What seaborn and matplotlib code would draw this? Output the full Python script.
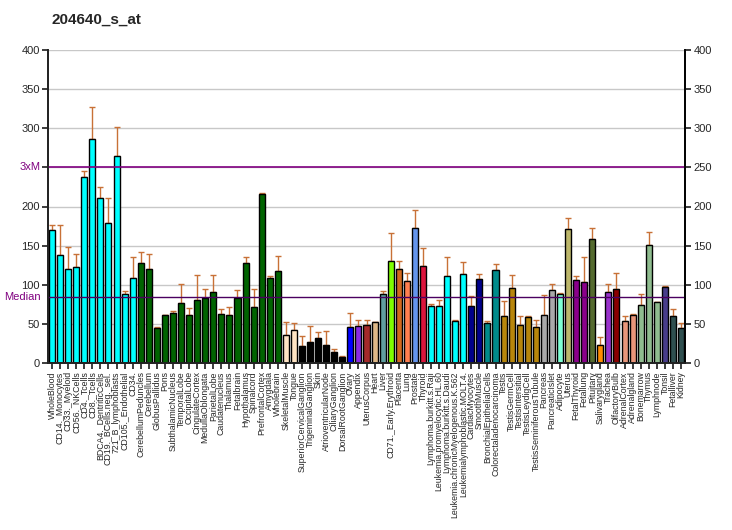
import matplotlib
matplotlib.use("Agg")
import matplotlib.pyplot as plt
import matplotlib.transforms as mtransforms
import numpy as np
import pandas as pd
import seaborn as sns

TITLE = "204640_s_at"

tissues = [
    "WholeBlood", "CD14._Monocytes", "CD33._Myeloid", "CD56._NKCells", "CD4._Tcells",
    "CD8._Tcells", "BDCA4._DentriticCells", "CD19._BCells.neg._sel.", "721_B_lymphoblasts",
    "CD105._Endothelial", "CD34.", "CerebellumPeduncles", "Cerebellum", "GlobusPallidus",
    "Pons", "SubthalamicNucleus", "TemporalLobe", "OccipitalLobe", "CingulateCortex",
    "MedullaOblongata", "ParietalLobe", "Caudatenucleus", "Thalamus", "Fetalbrain",
    "Hypothalamus", "Spinalcord", "PrefrontalCortex", "Amygdala", "Wholebrain",
    "SkeletalMuscle", "Tongue", "SuperiorCervicalGanglion", "TrigeminalGanglion", "Skin",
    "AtrioventricularNode", "CiliaryGanglion", "DorsalRootGanglion", "Ovary", "Appendix",
    "UterusCorpus", "Heart", "Liver", "CD71._Early.Erythroid", "Placenta", "Lung",
    "Prostate", "Thyroid", "Lymphoma.burkitt.s.Raji", "Leukemia.promyelocytic.HL.60",
    "Lymphoma.burkitt.s.Daudi", "Leukemia.chronicMyelogenous.K.562",
    "Leukemialymphoblastic.MOLT.4.", "CardiacMyocytes", "SmoothMuscle",
    "BronchialEpithelialCells", "Colorectaladenocarcinoma", "Testis", "TestisGermCell",
    "TestisIntersitial", "TestisLeydigCell", "TestisSeminiferousTubule", "Pancreas",
    "PancreaticIslet", "Adipocyte", "Uterus", "FetalThyroid", "Fetallung", "Pituitary",
    "Salivarygland", "Trachea", "OlfactoryBulb", "AdrenalCortex", "Adrenalgland",
    "Bonemarrow", "Thymus", "Lymphnode", "Tonsil", "Fetalliver", "Kidney",
]

values = [
    169.6, 137.6, 119.7, 122.7, 237.3, 285.9, 210.4, 178.5, 264.1, 87.8, 108.2,
    127.4, 119.7, 44.3, 60.9, 63.5, 76.3, 60.9, 80.1, 82.7, 90.3, 62.2, 61.0, 83.5,
    127.4, 71.2, 215.6, 108.2, 117.2,
    35.4, 41.8, 21.3, 26.5, 31.6, 22.6, 13.6, 7.2, 45.6, 46.9, 48.2, 52.0, 87.8,
    130.0, 119.7, 104.4, 172.1, 123.6, 72.5, 72.5, 110.8, 53.3, 113.4, 72.5, 107.0,
    50.7, 118.5, 59.7, 95.5, 48.2, 58.4, 45.6, 61.0, 92.9, 87.8, 170.8, 105.7, 103.1,
    158.1, 22.6, 90.3, 94.2, 53.3, 61.0, 73.7, 150.4, 77.6, 96.7, 59.7, 44.3,
]

err_top = [
    176, 176, 147.8, 138.9, 245, 327, 225.3, 210.4, 301, 91.6, 135,
    142.3, 138.9, 45.6, 61.8, 66, 100.5, 69.9, 112, 94.2, 112, 68.6, 71.2, 92.9,
    135, 94.2, 216.9, 110.8, 136.4,
    52, 50.7, 34, 47, 39.2, 40.5, 17.5, 8.5, 63.5, 54.6, 54.6, 53, 91.6,
    165.7, 130, 114.6, 195.1, 146.6, 75, 80.1, 135, 54.6, 128.7, 85.2, 113.4,
    53.3, 126.1, 78.8, 112, 59.7, 59.7, 54.6, 86.5, 100.5, 89, 184.9, 110.8, 135,
    172.1, 32.8, 100.5, 114.6, 59.7, 62.2, 87.8, 167, 77.6, 97.8, 68.6, 50.7,
]

bar_colors = (
    ["#00FFFF"] * 11 + ["#006400"] * 18 + ["#FFE4C4"] * 2 + ["#000000"] * 6
    + ["#0000FF", "#8A2BE2", "#A52A2A", "#DEB887", "#5F9EA0", "#7FFF00", "#D2691E",
       "#FF7F50", "#6495ED", "#DC143C"]
    + ["#00FFFF"] * 5 + ["#00008B"] * 2 + ["#008B8B"] * 2 + ["#B8860B"] * 5
    + ["#A9A9A9"] * 2 + ["#7FFFD4", "#BDB76B", "#8B008B", "#8B008B", "#556B2F",
                         "#FF8C00", "#9932CC", "#8B0000", "#E9967A", "#E9967A"]
    + ["#8FBC8F"] * 3 + ["#483D8B", "#2F4F4F", "#2F4F4F"]
)

median_value = 84.3
three_x_median = 251
y_ticks = [0, 50, 100, 150, 200, 250, 300, 350, 400]
left_tick_labels = ["0", "50", "100", "150", "200", "", "300", "350", "400"]

df = pd.DataFrame({"tissue": tissues, "value": values, "err_top": err_top})

sns.set_theme(style="white")
plt.rcParams["font.family"] = ["Liberation Sans", "DejaVu Sans"]

fig = plt.figure(figsize=(7.32, 5.30), dpi=100)
ax = fig.add_axes([48 / 732, 167 / 530, 637 / 732, 313 / 530])

for t in y_ticks[1:]:
    ax.axhline(t, color="#C8C8C8", lw=1, zorder=0)

sns.barplot(data=df, x="tissue", y="value", hue="tissue", palette=bar_colors,
            legend=False, width=0.75, edgecolor="black", linewidth=1,
            saturation=1, ax=ax, zorder=2)

xs = np.arange(len(df))
up = df["err_top"] - df["value"]
ax.errorbar(xs, df["value"], yerr=[np.zeros(len(df)), up], fmt="none",
            ecolor="#C87137", elinewidth=1, capsize=2.5, capthick=1, zorder=1)

ax.axhline(three_x_median, color="#800080", lw=1.2, zorder=3)
ax.axhline(median_value, color="#4B0060", lw=1, zorder=3)
trans = mtransforms.blended_transform_factory(ax.transAxes, ax.transData)
ax.text(-0.012, three_x_median, "3xM", color="#800080", fontsize=8,
        ha="right", va="center", transform=trans)
ax.text(-0.012, median_value, "Median", color="#800080", fontsize=8,
        ha="right", va="center", transform=trans)

ax.set_xlim(-0.5, len(df) - 0.5)
ax.set_ylim(0, 400)
ax.set_yticks(y_ticks)
ax.set_yticklabels(left_tick_labels)
ax.tick_params(axis="y", labelsize=8, length=4, direction="out", left=True, pad=2)
ax.set_xticks(xs)
ax.set_xticklabels(tissues, rotation=90, fontsize=6.3)
ax.tick_params(axis="x", length=4, direction="out", bottom=True, pad=2)
ax.set_xlabel("")
ax.set_ylabel("")
for side in ["left", "right", "bottom"]:
    ax.spines[side].set_visible(True)
    ax.spines[side].set_color("black")
ax.spines["top"].set_visible(False)

ax_r = ax.twinx()
ax_r.set_ylim(0, 400)
ax_r.set_yticks(y_ticks)
ax_r.tick_params(axis="y", labelsize=8, length=4, direction="out", right=True, pad=2)
ax_r.spines["top"].set_visible(False)
ax_r.spines["right"].set_color("black")
ax_r.grid(False)

fig.text(52 / 732, 1 - 20 / 530, TITLE, fontsize=11, fontweight="bold",
         ha="left", va="center")

fig.savefig("out.png", dpi=100)
